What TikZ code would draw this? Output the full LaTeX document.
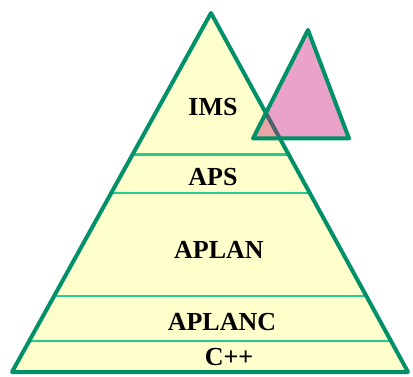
\documentclass[tikz,border=0pt]{standalone}
\usepackage{fontspec}
\setmainfont{Liberation Serif}
\usetikzlibrary{calc}
\definecolor{outgreen}{RGB}{0,145,105}
\definecolor{bandgreen}{RGB}{35,205,145}
\definecolor{pyell}{RGB}{255,255,204}
\definecolor{ppink}{RGB}{235,162,200}
\definecolor{psalmon}{RGB}{235,165,165}
\definecolor{pshade}{RGB}{80,100,110}
\begin{document}
\begin{tikzpicture}[x=1pt,y=-1pt,
  outline/.style={draw=outgreen,line width=4pt,line join=round},
  band/.style={draw=bandgreen,line width=2.2pt},
  lbl/.style={font=\fontsize{26}{30}\selectfont\bfseries,text=black,inner sep=0pt,anchor=center}]
\useasboundingbox (0,0) rectangle (413,377);
\coordinate (apex) at (211,13);
\coordinate (bl) at (12,372);
\coordinate (br) at (408,372);
\coordinate (sapex) at (308,30);
\coordinate (sbl) at (253,138.5);
\coordinate (sbr) at (349,138.5);
% big triangle fill
\fill[pyell] (apex) -- (bl) -- (br) -- cycle;
% band lines
\foreach \t/\n in {0.394/a,0.501/b,0.788/c,0.914/d}{
  \coordinate (L\n) at ($(apex)!\t!(bl)$);
  \coordinate (R\n) at ($(apex)!\t!(br)$);
  \draw[band] (L\n) -- (R\n);
}
% big triangle outline
\draw[outline] (apex) -- (bl) -- (br) -- cycle;
% small triangle fill
\fill[ppink] (sapex) -- (sbl) -- (sbr) -- cycle;
\begin{scope}
  \clip (apex) -- (bl) -- (br) -- cycle;
  \fill[psalmon] (sapex) -- (sbl) -- (sbr) -- cycle;
\end{scope}
\begin{scope}
  \clip (sapex) -- (sbl) -- (sbr) -- cycle;
  \draw[pshade,line width=4pt] (apex) -- (br);
\end{scope}
\draw[outline] (sapex) -- (sbl) -- (sbr) -- cycle;
% labels
\node[lbl] (ims) at (213,107) {IMS};
\node[lbl] (aps) at (213,177.5) {APS};
\node[lbl] (aplan) at (219,250) {APLAN};
\node[lbl] (aplanc) at (222,322) {APLANC};
\node[lbl] (cpp) at (229,357.5) {C++};
\end{tikzpicture}
\end{document}
